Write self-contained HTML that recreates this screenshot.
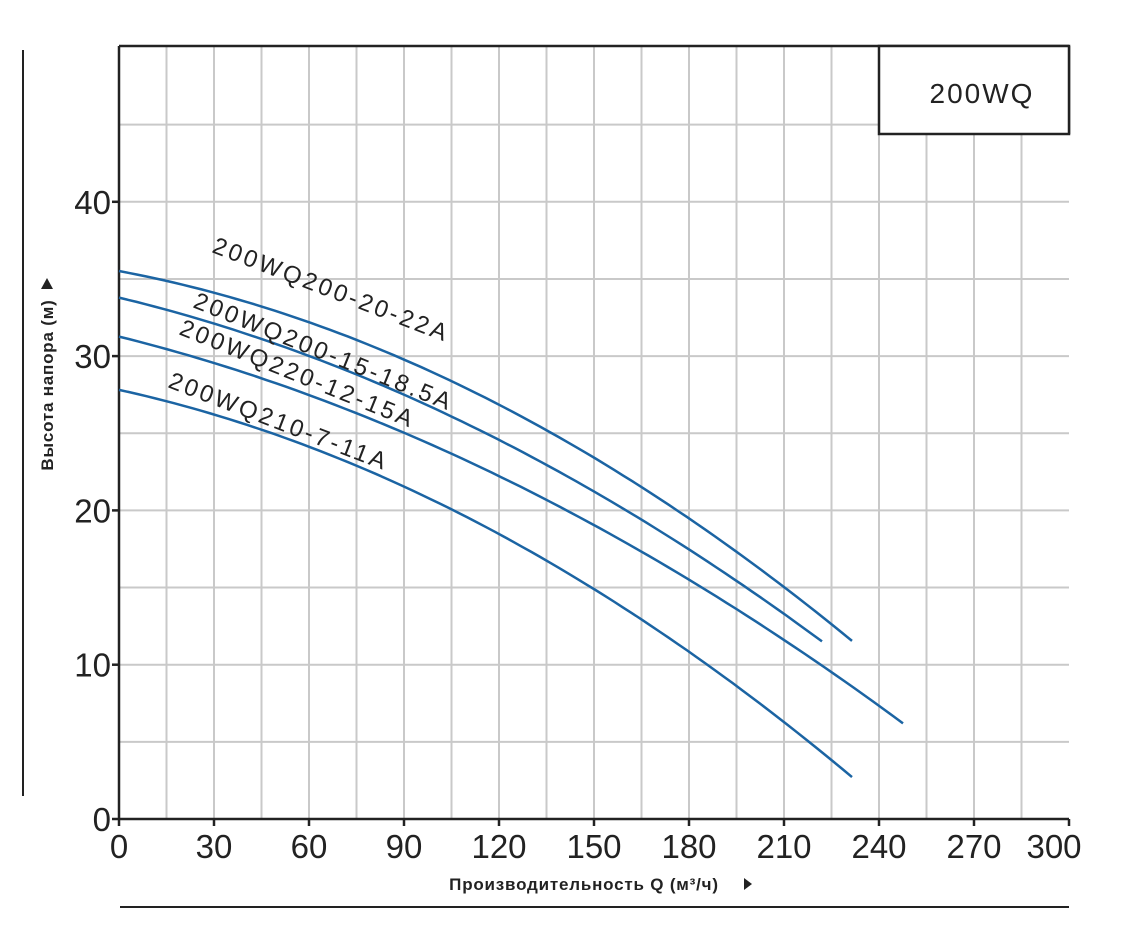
<!DOCTYPE html>
<html><head><meta charset="utf-8"><style>
html,body{margin:0;padding:0;background:#fff;}
svg{display:block;font-family:"Liberation Sans","DejaVu Sans",sans-serif;}
</style></head><body>
<svg id="s" width="1129" height="928" viewBox="0 0 1129 928" xmlns="http://www.w3.org/2000/svg">
<g id="grid" stroke="#c9c9c9" stroke-width="2"></g>
<line x1="23" y1="50" x2="23" y2="796" stroke="#222" stroke-width="2"/>
<line x1="120" y1="907" x2="1069" y2="907" stroke="#222" stroke-width="2"/>
<line x1="119" y1="46" x2="1069" y2="46" stroke="#222" stroke-width="2.5"/>
<line x1="119" y1="46" x2="119" y2="820" stroke="#222" stroke-width="2.5"/>
<line x1="119" y1="819" x2="1069" y2="819" stroke="#222" stroke-width="2.5"/>
<line x1="1069" y1="46" x2="1069" y2="134" stroke="#222" stroke-width="2.5"/>
<rect x="879" y="46" width="190" height="88" fill="#fff" stroke="#222" stroke-width="2.5"/>
<text x="982" y="103" font-size="28" text-anchor="middle" fill="#222" letter-spacing="2">200WQ</text>
<g id="ticks" stroke="#222" stroke-width="2.5"></g>
<g id="labs" fill="#222" font-size="33"></g>
<g id="curves" fill="none" stroke="#1b64a3" stroke-width="2.5"></g>
<g fill="#222" font-size="24" letter-spacing="3">
<text transform="translate(211,252) rotate(21)">200WQ200-20-22A</text>
<text transform="translate(192,307) rotate(22)">200WQ200-15-18.5A</text>
<text transform="translate(178,334) rotate(22)">200WQ220-12-15A</text>
<text transform="translate(167,387) rotate(21)">200WQ210-7-11A</text>
</g>
<text transform="translate(53,385) rotate(-90)" font-size="17" font-weight="bold" text-anchor="middle" fill="#222" letter-spacing="0.8">Высота напора (м)</text>
<polygon points="41,289 53,289 47,278" fill="#222"/>
<text x="584" y="890" font-size="17" font-weight="bold" text-anchor="middle" fill="#222" letter-spacing="0.8">Производительность Q (м³/ч)</text>
<polygon points="744,878 744,890 752,884" fill="#222"/>
</svg>
<script>
var ns="http://www.w3.org/2000/svg";
function X(q){return 119+q*950/300;}
function Y(h){return 819-h*15.43;}
function el(p,t,a,txt){var e=document.createElementNS(ns,t);for(var k in a)e.setAttribute(k,a[k]);if(txt!==undefined)e.textContent=txt;document.getElementById(p).appendChild(e);}
for(var q=15;q<300;q+=15)el("grid","line",{x1:X(q),y1:46,x2:X(q),y2:819});
for(var h=5;h<50;h+=5)el("grid","line",{x1:119,y1:Y(h),x2:1069,y2:Y(h)});
for(var q=0;q<=300;q+=30){el("ticks","line",{x1:X(q),y1:819,x2:X(q),y2:826});el("labs","text",{x:(q==300?1054:X(q)),y:858,"text-anchor":"middle"},""+q);}
for(var h=0;h<=40;h+=10){el("ticks","line",{x1:112,y1:Y(h),x2:119,y2:Y(h)});el("labs","text",{x:111,y:Y(h)+12,"text-anchor":"end"},""+h);}
var P=[
[[119,271],[300,319],[600,463],[690,517],[852,641]],
[[119,298],[300,348],[600,497],[690,553],[822,641]],
[[119,337],[300,387],[600,528],[690,585],[903,723]],
[[119,390],[300,442],[578,580],[690,653],[852,777]]];
function solve(A,b){var n=3;for(var i=0;i<n;i++){var m=i;for(var r=i+1;r<n;r++)if(Math.abs(A[r][i])>Math.abs(A[m][i]))m=r;var t=A[i];A[i]=A[m];A[m]=t;t=b[i];b[i]=b[m];b[m]=t;for(var r=i+1;r<n;r++){var f=A[r][i]/A[i][i];for(var c=i;c<n;c++)A[r][c]-=f*A[i][c];b[r]-=f*b[i];}}var x=[0,0,0];for(var i=n-1;i>=0;i--){var s=b[i];for(var c=i+1;c<n;c++)s-=A[i][c]*x[c];x[i]=s/A[i][i];}return x;}
P.forEach(function(p){
 var A=[[0,0,0],[0,0,0],[0,0,0]],b=[0,0,0];
 p.forEach(function(pt,k){var w=(k==0||k==p.length-1)?6:1;var u=(pt[0]-119)/100;var v=[1,u,u*u];for(var i=0;i<3;i++){for(var j=0;j<3;j++)A[i][j]+=w*v[i]*v[j];b[i]+=w*v[i]*pt[1];}});
 var c=solve(A,b);var x0=p[0][0],x1=p[p.length-1][0],d="";
 for(var i=0;i<=80;i++){var x=x0+(x1-x0)*i/80,u=(x-119)/100;var y=c[0]+c[1]*u+c[2]*u*u;d+=(i?"L":"M")+x.toFixed(1)+","+y.toFixed(1);}
 el("curves","path",{d:d});});
</script>
</body></html>
